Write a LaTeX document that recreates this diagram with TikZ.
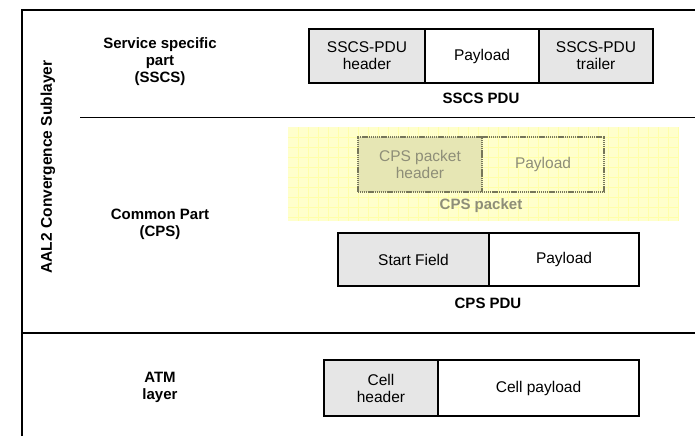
\documentclass[tikz,border=0pt]{standalone}
\usepackage{fontspec}
\setmainfont{Liberation Sans}
\definecolor{hdrgray}{HTML}{E6E6E6}
\definecolor{bandfill}{HTML}{FFFFCC}
\definecolor{bandgrid}{HTML}{FFFFAA}
\definecolor{pkthdr}{HTML}{E6E6B4}
\definecolor{pktline}{HTML}{76765A}
\definecolor{pkttext}{HTML}{8E8E78}
\begin{document}
\begin{tikzpicture}[x=1pt,y=-1pt,
  boxtext/.style={font=\fontsize{15.5}{17}\selectfont},
  layerlabel/.style={font=\fontsize{15}{17}\selectfont\bfseries, align=center, inner sep=0},
  cell/.style={draw, line width=1.5pt, inner sep=0, align=center, boxtext},
  hdr/.style={cell, fill=hdrgray},
  pkt/.style={draw=pktline, line width=1.3pt, dash pattern=on 1.2pt off 0.7pt,
    inner sep=0, align=center, boxtext, text=pkttext},
  frame/.style={line width=1.6pt},
  thin/.style={line width=1pt}]
\useasboundingbox (0,0) rectangle (695,436);

% outer frame and layer separators
\coordinate (tl) at (22,10);
\coordinate (tr) at (695,10);
\coordinate (bl) at (22,436);
\coordinate (sepL) at (80,117);
\coordinate (sepR) at (695,117);
\coordinate (atmL) at (22,333);
\coordinate (atmR) at (695,333);
\draw[frame] (bl) -- (tl) -- (tr);
\draw[thin] (sepL) -- (sepR);
\draw[frame] (atmL) -- (atmR);

% sublayer title
\node[layerlabel, rotate=90, font=\fontsize{15.5}{17}\selectfont\bfseries] (aal2) at (48,167) {AAL2 Convergence Sublayer};

% layer labels
\node[layerlabel] (sscs) at (160,62) {Service specific\\part\\(SSCS)};
\node[layerlabel] (cps) at (160,224) {Common Part\\(CPS)};
\node[layerlabel] (atm) at (160,387) {ATM\\layer};

% SSCS PDU
\node[hdr, minimum width=116, minimum height=54] (sh) at (367,56) {SSCS-PDU\\header};
\node[cell, minimum width=114, minimum height=54] (sp) at (482,56) {Payload};
\node[hdr, minimum width=114, minimum height=54] (st) at (596,56) {SSCS-PDU\\trailer};
\node[layerlabel] (sscspdu) at (481,98) {SSCS PDU};

% CPS packet on its highlighted band
\fill[bandfill] (288,127) rectangle (678,221);
\foreach \gx in {298,308,...,678} \draw[bandgrid, line width=0.5pt] (\gx,127) -- (\gx,221);
\foreach \gy in {137,147,...,221} \draw[bandgrid, line width=0.5pt] (288,\gy) -- (678,\gy);
\node[pkt, fill=pkthdr, minimum width=124, minimum height=55] (ph) at (420,164.5) {CPS packet\\header};
\node[pkt, minimum width=122, minimum height=55] (pp) at (543,164.5) {Payload};
\node[layerlabel, text=pkttext] (cpspkt) at (481,206) {CPS packet};

% CPS PDU
\node[hdr, minimum width=151, minimum height=53] (sf) at (413.5,259.5) {Start Field};
\node[cell, minimum width=150, minimum height=53] (cp) at (564,259.5) {Payload};
\node[layerlabel] (cpspdu) at (488,303) {CPS PDU};

% ATM cell
\node[hdr, minimum width=114, minimum height=56] (ch) at (381,388) {Cell\\header};
\node[cell, minimum width=201, minimum height=56] (cpl) at (538.5,388) {Cell payload};
\end{tikzpicture}
\end{document}
